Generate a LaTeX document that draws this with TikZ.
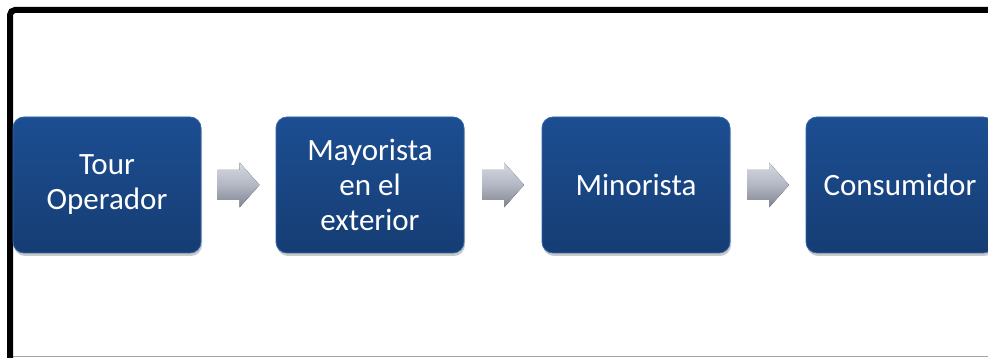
\documentclass[tikz,border=0pt]{standalone}
\usepackage{fontspec}
\setmainfont{Carlito}
\usetikzlibrary{shadows,calc}
\definecolor{boxtop}{HTML}{1C4E92}
\definecolor{boxbot}{HTML}{163D74}
\definecolor{boxedge}{HTML}{3266AA}
\definecolor{arrtop}{HTML}{D6D9E2}
\definecolor{arrmid}{HTML}{B3B7C4}
\definecolor{arrbot}{HTML}{80848F}
\tikzset{
  stagebox/.style={rectangle, rounded corners=11pt, minimum width=188pt, minimum height=136pt,
    top color=boxtop, bottom color=boxbot, draw=boxedge, line width=0.8pt,
    text=white, align=center, font=\fontsize{31}{35}\selectfont,
    drop shadow={shadow xshift=1pt, shadow yshift=-3pt, opacity=0.35, fill=black!60}},
  blockarrow/.style={top color=arrtop, bottom color=arrbot, middle color=arrmid, draw=none},
  framebar/.style={line width=6pt, black, rounded corners=5pt}
}
\begin{document}
\begin{tikzpicture}[x=1pt,y=1pt]
\useasboundingbox (0,0) rectangle (988,358);
\clip (0,0) rectangle (988,358);
\fill[white] (0,0) rectangle (988,358);
% frame
\draw[gray!70, line width=1pt] (13,1.3) -- (988,1.3);
\draw[framebar] (990,348) -- (10,348) -- (10,-5);
% boxes
\node[stagebox] (b1) at (107,173) {Tour\\Operador};
\node[stagebox] (b2) at (370,173) {Mayorista\\en el\\exterior};
\node[stagebox] (b3) at (636,173) {Minorista};
\node[stagebox] (b4) at (900,173) {Consumidor};
% arrows
\foreach \a/\b/\n in {b1/b2/a1, b2/b3/a2, b3/b4/a3}{
  \coordinate (\n) at ($(\a.east)!0.5!(\b.west)$);
  \fill[blockarrow] ($(\n)+(-21,-15)$) -- ($(\n)+(1,-15)$) -- ($(\n)+(1,-22.5)$) -- ($(\n)+(21,0)$)
     -- ($(\n)+(1,22.5)$) -- ($(\n)+(1,15)$) -- ($(\n)+(-21,15)$) -- cycle;
}
\end{tikzpicture}
\end{document}
